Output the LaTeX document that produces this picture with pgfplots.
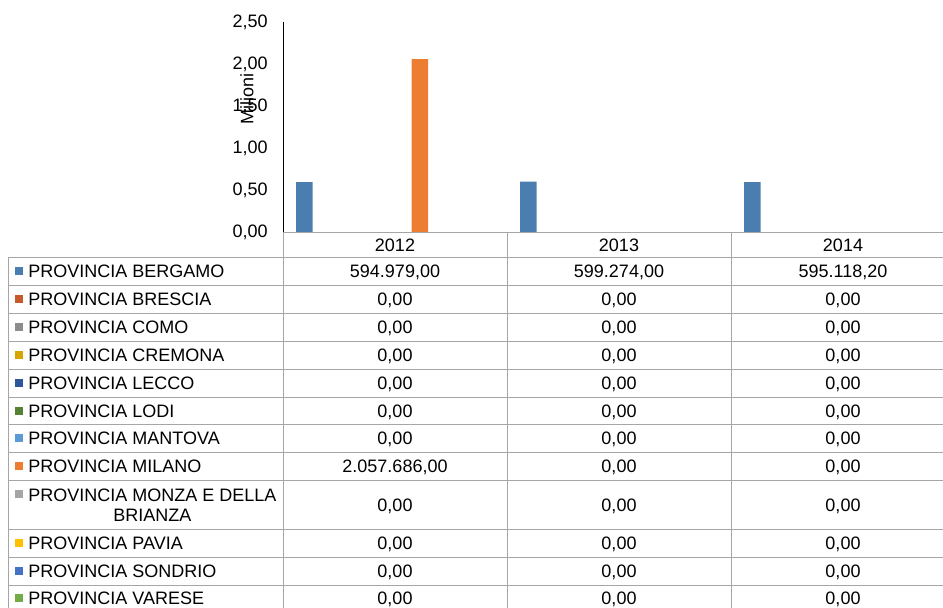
\documentclass[border=0pt]{standalone}
\usepackage{pgfplots}
\pgfplotsset{compat=1.18}
\usepackage{fontspec}
\setmainfont{Liberation Sans}

\definecolor{cBergamo}{HTML}{4A7EB0}
\definecolor{cBrescia}{HTML}{C55A28}
\definecolor{cComo}{HTML}{8C8C8C}
\definecolor{cCremona}{HTML}{D9A300}
\definecolor{cLecco}{HTML}{2F559B}
\definecolor{cLodi}{HTML}{548235}
\definecolor{cMantova}{HTML}{5B9BD5}
\definecolor{cMilano}{HTML}{ED7D31}
\definecolor{cMonza}{HTML}{A5A5A5}
\definecolor{cPavia}{HTML}{FFC000}
\definecolor{cSondrio}{HTML}{4472C4}
\definecolor{cVarese}{HTML}{70AD47}
\definecolor{gridgray}{HTML}{A6A6A6}

\begin{document}
\begin{tikzpicture}[x=0.5pt,y=0.5pt,font=\fontsize{9}{10}\selectfont]
\path[use as bounding box, clip] (0,0) rectangle (943,607);

% chart: values in millions
\begin{axis}[
    at={(141.5pt,187.5pt)}, anchor=south west,
    scale only axis, width=336pt, height=105pt,
    xmin=-0.5, xmax=2.5, ymin=0, ymax=2.5,
    ybar=0pt, bar width=8.25pt,
    axis line style={draw=none},
    major tick length=0pt,
    xtick=\empty,
    ytick={0,0.5,1,1.5,2,2.5},
    /pgf/number format/fixed,
    /pgf/number format/fixed zerofill,
    /pgf/number format/precision=2,
    /pgf/number format/use comma,
    /pgf/number format/assume math mode=true,
    yticklabel style={anchor=east, inner sep=0pt, xshift=-7.5pt, font=\fontsize{9}{10}\selectfont},
    clip=false,
]
\addplot[fill=cBergamo, draw=none] coordinates {(0,0.594979) (1,0.599274) (2,0.5951182)};
\addplot[fill=cBrescia, draw=none] coordinates {(0,0) (1,0) (2,0)};
\addplot[fill=cComo, draw=none] coordinates {(0,0) (1,0) (2,0)};
\addplot[fill=cCremona, draw=none] coordinates {(0,0) (1,0) (2,0)};
\addplot[fill=cLecco, draw=none] coordinates {(0,0) (1,0) (2,0)};
\addplot[fill=cLodi, draw=none] coordinates {(0,0) (1,0) (2,0)};
\addplot[fill=cMantova, draw=none] coordinates {(0,0) (1,0) (2,0)};
\addplot[fill=cMilano, draw=none] coordinates {(0,2.057686) (1,0) (2,0)};
\addplot[fill=cMonza, draw=none] coordinates {(0,0) (1,0) (2,0)};
\addplot[fill=cPavia, draw=none] coordinates {(0,0) (1,0) (2,0)};
\addplot[fill=cSondrio, draw=none] coordinates {(0,0) (1,0) (2,0)};
\addplot[fill=cVarese, draw=none] coordinates {(0,0) (1,0) (2,0)};
\end{axis}

\node[rotate=90] at (247,508) {Milioni};
\draw[black, line width=0.5pt] (283,375) -- (283,585);

% data table
\begin{scope}[gridgray, line width=0.5pt]
  \draw (283,375) -- (960,375);
  \foreach \y in {350,322,294,266,238,210,183,155,127,78,50,22}
    \draw (8,\y) -- (960,\y);
  \draw (8,350) -- (8,-10);
  \foreach \x in {283,507,731} \draw (\x,375) -- (\x,-10);
\end{scope}

\foreach \x/\t in {395/2012,619/2013,843/2014}
  \node[anchor=base, inner sep=0] at (\x,355.5) {\t};

\foreach \y/\c/\n in {336/cBergamo/BERGAMO, 308/cBrescia/BRESCIA, 280/cComo/COMO,
    252/cCremona/CREMONA, 224/cLecco/LECCO, 196/cLodi/LODI, 169/cMantova/MANTOVA,
    141/cMilano/MILANO, 64/cPavia/PAVIA, 36/cSondrio/SONDRIO, 9/cVarese/VARESE} {
  \fill[\c] (15,\y-3.5) rectangle (23,\y+4.5);
  \node[anchor=base west, inner sep=0] at (28,\y-6.5) {PROVINCIA \n};
}
\fill[cMonza] (15,109.5) rectangle (23,117.5);
\node (mz) [anchor=base west, inner sep=0] at (28,106) {PROVINCIA MONZA E DELLA};
\node[anchor=base, inner sep=0, yshift=-10pt] at (mz.base) {BRIANZA};

% values
\node[anchor=base, inner sep=0] at (395,329.5) {594.979,00};
\node[anchor=base, inner sep=0] at (619,329.5) {599.274,00};
\node[anchor=base, inner sep=0] at (843,329.5) {595.118,20};
\foreach \y in {308,280,252,224,196,169,102,64,36,9} {
  \node[anchor=base, inner sep=0] at (395,\y-6.5) {0,00};
  \node[anchor=base, inner sep=0] at (619,\y-6.5) {0,00};
  \node[anchor=base, inner sep=0] at (843,\y-6.5) {0,00};
}
\node[anchor=base, inner sep=0] at (395,134.5) {2.057.686,00};
\node[anchor=base, inner sep=0] at (619,134.5) {0,00};
\node[anchor=base, inner sep=0] at (843,134.5) {0,00};
\end{tikzpicture}
\end{document}
